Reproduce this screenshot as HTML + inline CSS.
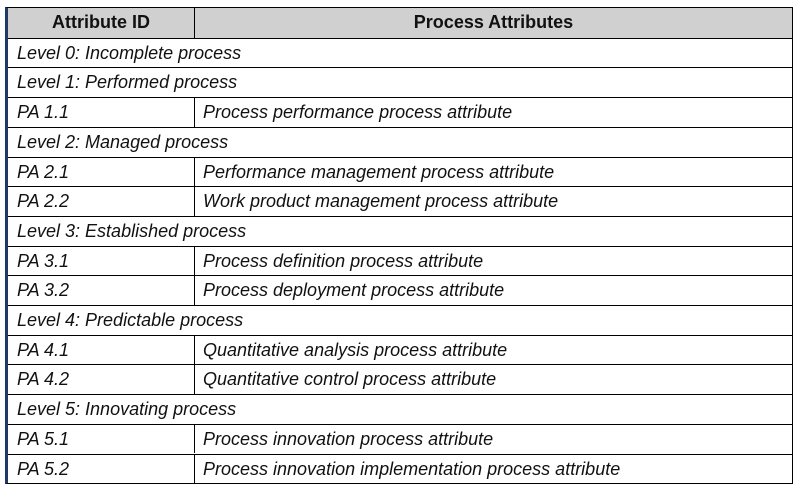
<!DOCTYPE html>
<html><head><style>
body{margin:0;width:800px;height:490px;background:#fff;position:relative;font-family:"Liberation Sans",Arial,sans-serif;overflow:hidden}
.t{position:absolute;left:5px;top:7px;width:788px;height:477px;border:1px solid #000;border-left:3px solid #1f3864;box-sizing:border-box}
.r{position:absolute;left:0;right:0;height:29.7px;border-top:1px solid #000;box-sizing:border-box;font-style:italic;font-size:18px;color:#111}
.r span{position:absolute;top:4px;white-space:nowrap}
.a{left:9px}.b{left:195px}
.d{position:absolute;left:186px;top:0;bottom:0;border-left:1px solid #000}
.h{background:#d0d0d0;border-top:none;font-style:normal;font-weight:bold}
</style></head><body>
<div class="t">
<div class="r h" style="top:0"><div class="d"></div><span style="left:0;width:186px;text-align:center">Attribute ID</span><span style="left:187px;right:0;text-align:center">Process Attributes</span></div>
<div class="r" style="top:29.7px"><span class="a">Level 0: Incomplete process</span></div>
<div class="r" style="top:59.4px"><span class="a">Level 1: Performed process</span></div>
<div class="r" style="top:89.1px"><div class="d"></div><span class="a">PA 1.1</span><span class="b">Process performance process attribute</span></div>
<div class="r" style="top:118.8px"><span class="a">Level 2: Managed process</span></div>
<div class="r" style="top:148.5px"><div class="d"></div><span class="a">PA 2.1</span><span class="b">Performance management process attribute</span></div>
<div class="r" style="top:178.2px"><div class="d"></div><span class="a">PA 2.2</span><span class="b">Work product management process attribute</span></div>
<div class="r" style="top:207.9px"><span class="a">Level 3: Established process</span></div>
<div class="r" style="top:237.6px"><div class="d"></div><span class="a">PA 3.1</span><span class="b">Process definition process attribute</span></div>
<div class="r" style="top:267.3px"><div class="d"></div><span class="a">PA 3.2</span><span class="b">Process deployment process attribute</span></div>
<div class="r" style="top:297px"><span class="a">Level 4: Predictable process</span></div>
<div class="r" style="top:326.7px"><div class="d"></div><span class="a">PA 4.1</span><span class="b">Quantitative analysis process attribute</span></div>
<div class="r" style="top:356.4px"><div class="d"></div><span class="a">PA 4.2</span><span class="b">Quantitative control process attribute</span></div>
<div class="r" style="top:386.1px"><span class="a">Level 5: Innovating process</span></div>
<div class="r" style="top:415.8px"><div class="d"></div><span class="a">PA 5.1</span><span class="b">Process innovation process attribute</span></div>
<div class="r" style="top:445.5px"><div class="d"></div><span class="a">PA 5.2</span><span class="b">Process innovation implementation process attribute</span></div>
</div>
</body></html>
